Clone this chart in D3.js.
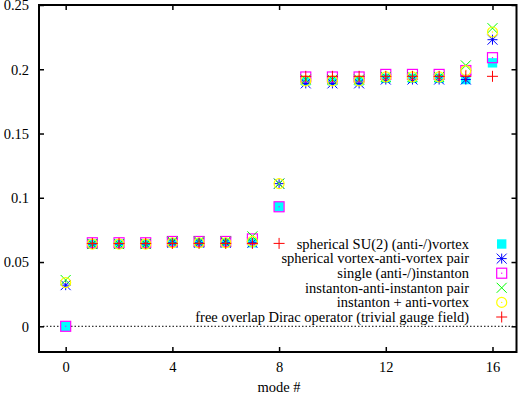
<!DOCTYPE html>
<html><head><meta charset="utf-8">
<script src="https://cdn.jsdelivr.net/npm/d3@7"></script>
<style>body{margin:0;background:#fff}svg{display:block}
svg text{font-family:"Liberation Serif","Times New Roman",Times,"DejaVu Serif",serif !important;}</style>
</head><body>
<script>
const modes = d3.range(0, 17);
const seriesNames = [
  "spherical SU(2) (anti-/)vortex",
  "spherical vortex-anti-vortex pair",
  "single (anti-/)instanton",
  "instanton-anti-instanton pair",
  "instanton + anti-vortex",
  "free overlap Dirac operator (trivial gauge field)"
];
const vortex      = [0, 0.064, 0.064, 0.064, 0.065, 0.065, 0.065, 0.065, 0.093, 0.191, 0.191, 0.191, 0.193, 0.193, 0.193, 0.192, 0.205];
const vortexPair  = [0.032, 0.064, 0.064, 0.064, 0.065, 0.065, 0.065, 0.065, 0.111, 0.189, 0.189, 0.189, 0.192, 0.192, 0.192, 0.192, 0.223];
const instanton   = [0, 0.065, 0.065, 0.065, 0.066, 0.066, 0.066, 0.068, 0.093, 0.194, 0.194, 0.194, 0.196, 0.196, 0.196, 0.199, 0.209];
const instPair    = [0.036, 0.064, 0.064, 0.064, 0.066, 0.066, 0.066, 0.070, 0.111, 0.192, 0.192, 0.192, 0.194, 0.194, 0.194, 0.203, 0.232];
const instAntiVx  = [0.034, 0.064, 0.064, 0.064, 0.065, 0.065, 0.065, 0.066, 0.111, 0.191, 0.191, 0.191, 0.194, 0.194, 0.194, 0.199, 0.229];
const freeModes   = d3.range(1, 17);
const freeDirac   = [0.0645, 0.0645, 0.0645, 0.0645, 0.0645, 0.0645, 0.0645, 0.0645, 0.1945, 0.1945, 0.1945, 0.1945, 0.1945, 0.1945, 0.1945, 0.1945];
const xTicks = [0, 4, 8, 12, 16];
const yTicks = [0, 0.05, 0.1, 0.15, 0.2, 0.25];
const yTickLabels = ["0", "0.05", "0.1", "0.15", "0.2", "0.25"];

const W = 521, H = 394;
const L = 39, R = 516.5, T = 5, B = 352;
const FONT = "Liberation Serif, Times New Roman, serif";
const svg = d3.select("body").append("svg").attr("width", W).attr("height", H);
const x = d3.scaleLinear().domain([-1, 16.9]).range([L, R]);
const y = d3.scaleLinear().domain([-0.02, 0.25]).range([B, T]);

// zero line
svg.append("line").attr("x1", L + 4).attr("x2", R - 3.5).attr("y1", y(0)).attr("y2", y(0))
  .attr("stroke", "#000").attr("stroke-width", 1).attr("stroke-dasharray", "1.5,2");

// axes (inward ticks, mirrored)
const tk = 5;
const axB = svg.append("g").attr("transform", `translate(0,${B})`)
  .call(d3.axisBottom(x).tickValues(xTicks).tickSize(-tk).tickPadding(10).tickFormat(d3.format("d")));
const axT = svg.append("g").attr("transform", `translate(0,${T})`)
  .call(d3.axisTop(x).tickValues(xTicks).tickSize(-tk).tickFormat(""));
const axL = svg.append("g").attr("transform", `translate(${L},0)`)
  .call(d3.axisLeft(y).tickValues(yTicks).tickSize(-tk).tickPadding(10).tickFormat((d, i) => yTickLabels[i]));
const axR = svg.append("g").attr("transform", `translate(${R},0)`)
  .call(d3.axisRight(y).tickValues(yTicks).tickSize(-tk).tickFormat(""));
[axB, axT, axL, axR].forEach(g => {
  g.attr("font-family", null);
  g.select(".domain").remove();
  g.selectAll(".tick line").attr("stroke", "#000").attr("stroke-width", 1.5);
  g.selectAll("text").attr("font-size", 14.5).attr("fill", "#000");
});
axL.selectAll("text").attr("dy", "0.33em");
svg.append("rect").attr("x", L).attr("y", T).attr("width", R - L).attr("height", B - T)
  .attr("fill", "none").attr("stroke", "#000").attr("stroke-width", 2);

svg.append("text").attr("x", 279).attr("y", 392).attr("text-anchor", "middle")
  .attr("font-size", 14.5).text("mode #");

// symbol painters
function sym(g, type, cx, cy) {
  const s = 5;
  if (type === 0) {
    g.append("rect").attr("x", cx - 4.7).attr("y", cy - 4.7).attr("width", 9.4).attr("height", 9.4).attr("fill", "#00ffff");
  } else if (type === 1) {
    const c = "#0000ff";
    [[-s,0,s,0],[0,-s,0,s],[-s,-s,s,s],[-s,s,s,-s]].forEach(p =>
      g.append("line").attr("x1", cx+p[0]).attr("y1", cy+p[1]).attr("x2", cx+p[2]).attr("y2", cy+p[3]).attr("stroke", c).attr("stroke-width", 1));
  } else if (type === 2) {
    g.append("rect").attr("x", cx - 5).attr("y", cy - 5).attr("width", 10).attr("height", 10).attr("fill", "none").attr("stroke", "#ff00ff").attr("stroke-width", 1.2);
    g.append("rect").attr("x", cx - 0.6).attr("y", cy - 0.6).attr("width", 1.2).attr("height", 1.2).attr("fill", "#ff00ff");
  } else if (type === 3) {
    const c = "#00ff00";
    [[-s,-s,s,s],[-s,s,s,-s]].forEach(p =>
      g.append("line").attr("x1", cx+p[0]).attr("y1", cy+p[1]).attr("x2", cx+p[2]).attr("y2", cy+p[3]).attr("stroke", c).attr("stroke-width", 1));
  } else if (type === 4) {
    g.append("circle").attr("cx", cx).attr("cy", cy).attr("r", 5).attr("fill", "none").attr("stroke", "#ffff00").attr("stroke-width", 1.2);
    g.append("circle").attr("cx", cx).attr("cy", cy).attr("r", 0.7).attr("fill", "#ffff00");
  } else {
    const c = "#ff0000", t = 5.5;
    [[-t,0,t,0],[0,-t,0,t]].forEach(p =>
      g.append("line").attr("x1", cx+p[0]).attr("y1", cy+p[1]).attr("x2", cx+p[2]).attr("y2", cy+p[3]).attr("stroke", c).attr("stroke-width", 1));
  }
}

const allSeries = [
  {xs: modes, ys: vortex},
  {xs: modes, ys: vortexPair},
  {xs: modes, ys: instanton},
  {xs: modes, ys: instPair},
  {xs: modes, ys: instAntiVx},
  {xs: freeModes, ys: freeDirac}
];
const pts = svg.append("g");
allSeries.forEach((s, k) => {
  s.ys.forEach((v, i) => sym(pts, k, x(s.xs[i]), y(v)));
});

// legend
const leg = svg.append("g");
seriesNames.forEach((name, k) => {
  const cy = 244 + k * 14.6;
  leg.append("text").attr("x", 469).attr("y", cy).attr("dy", "0.33em").attr("text-anchor", "end")
    .attr("font-size", 14.5).text(name);
  sym(leg, k, 501.7, cy);
});
</script>
</body></html>
